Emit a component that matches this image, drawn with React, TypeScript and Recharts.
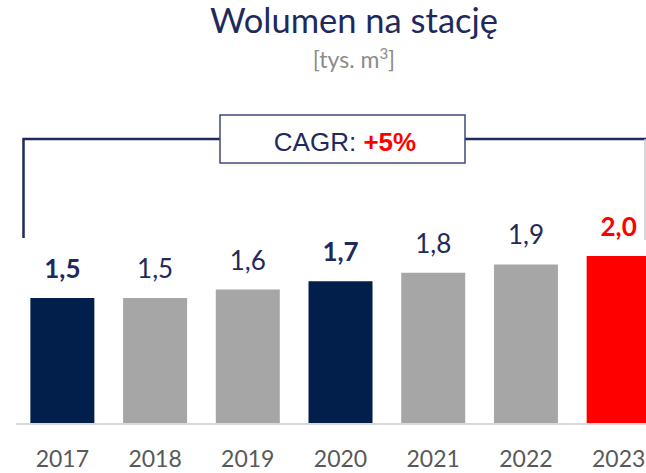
import { BarChart, Bar, XAxis, YAxis, Cell, LabelList } from 'recharts'

// dane z wykresu
const years = ['2017', '2018', '2019', '2020', '2021', '2022', '2023']
const volumes = [1.5, 1.5, 1.6, 1.7, 1.8, 1.9, 2.0]
// rodzaj słupka: wyróżniony / zwykły / docelowy
const kinds = ['key', 'plain', 'plain', 'key', 'plain', 'plain', 'target']
const cagrLabel = 'CAGR: '
const cagrValue = '+5%'

const NAVY = '#021E4B'
const TEXT_NAVY = '#1F2A5C'
const RED = '#FF0000'
const GRAY_BAR = '#A6A6A6'

const barFill: Record<string, string> = { key: NAVY, plain: GRAY_BAR, target: RED }
const labelFill: Record<string, string> = { key: TEXT_NAVY, plain: TEXT_NAVY, target: RED }

const data = years.map((year, i) => ({ year, value: volumes[i], kind: kinds[i] }))

const fmt = (v: number) => v.toFixed(1).replace('.', ',')

const ValueLabel = (props: any) => {
  const { x, y, width, value, index } = props
  const kind = kinds[index]
  return (
    <text
      x={Number(x) + Number(width) / 2}
      y={Number(y) - 20}
      textAnchor="middle"
      fontFamily="Lato"
      fontSize={26}
      fontWeight={kind === 'plain' ? 400 : 700}
      fill={labelFill[kind]}
    >
      {fmt(Number(value))}
    </text>
  )
}

export default function App() {
  return (
    <div style={{ position: 'absolute', left: 0, top: 0, width: 646, height: 473, overflow: 'hidden', background: '#fff' }}>
      <BarChart
        width={680}
        height={473}
        data={data}
        margin={{ top: 172, right: 15, bottom: 0, left: 16 }}
        barCategoryGap="15.5%"
      >
        <XAxis
          dataKey="year"
          height={49}
          tickLine={false}
          tickSize={0}
          tickMargin={27}
          axisLine={{ stroke: '#D9D9D9', strokeWidth: 2 }}
          tick={{ fill: '#595959', fontSize: 23, fontFamily: 'Lato' }}
          interval={0}
        />
        <YAxis hide domain={[0, 3]} />
        <Bar dataKey="value" isAnimationActive={false}>
          {data.map((d, i) => (
            <Cell key={`cell-${i}`} fill={barFill[d.kind]} />
          ))}
          <LabelList dataKey="value" content={ValueLabel} />
        </Bar>
      </BarChart>

      {/* tytuł, nawias i CAGR */}
      <svg width={646} height={473} style={{ position: 'absolute', left: 0, top: 0, pointerEvents: 'none' }}>
        <text x={354} y={33} textAnchor="middle" fontFamily="Lato" fontSize={34.5} fill={TEXT_NAVY}>
          Wolumen na stację
        </text>
        <text x={354} y={68} textAnchor="middle" fontFamily="Lato" fontSize={23} fill="#8C8C8C">
          [tys. m<tspan dy={-9} fontSize={15}>3</tspan><tspan dy={9}>]</tspan>
        </text>
        <polyline points="23.5,238 23.5,139 646,139" fill="none" stroke={TEXT_NAVY} strokeWidth={2.5} />
        <line x1={645} y1={139} x2={645} y2={240} stroke="#C8C8D0" strokeWidth={1.5} />
        <rect x={221} y={118} width={244} height={48} fill="#F2F2F2" opacity={0.6} />
        <rect x={220} y={115} width={245} height={48} fill="#fff" stroke="#3F4A7A" strokeWidth={1.5} />
        <text x={345} y={151} textAnchor="middle" fontFamily="Liberation Sans" fontSize={26} fill={TEXT_NAVY}>
          {cagrLabel}
          <tspan fill={RED} fontWeight={700}>{cagrValue}</tspan>
        </text>
      </svg>
    </div>
  )
}
